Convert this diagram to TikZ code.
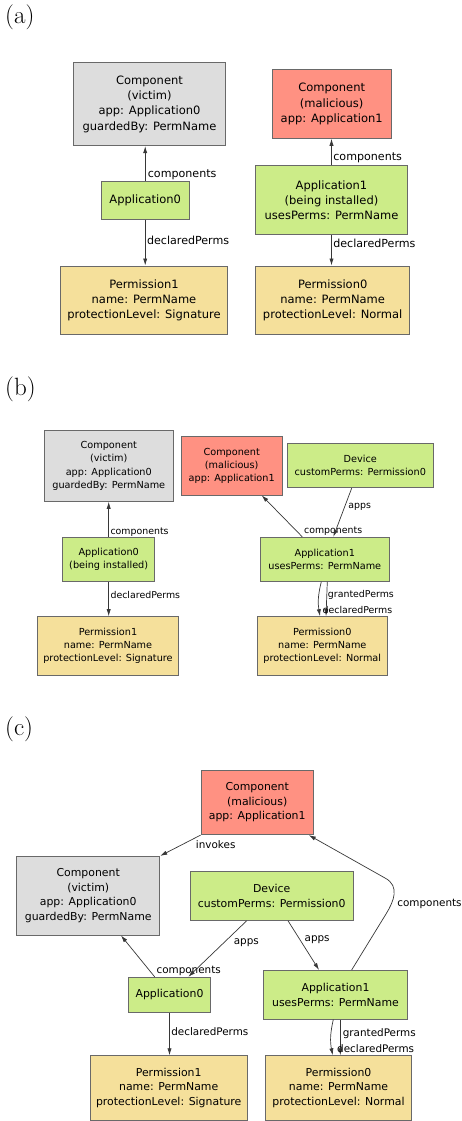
\documentclass[tikz,border=0pt]{standalone}
\usepackage{fontspec}
\newfontfamily\djv{DejaVu Sans}
\usetikzlibrary{arrows.meta}
\definecolor{vicgray}{RGB}{221,221,221}
\definecolor{malred}{RGB}{255,145,130}
\definecolor{appgreen}{RGB}{204,236,136}
\definecolor{permyel}{RGB}{245,224,155}
\definecolor{bordergray}{RGB}{105,105,105}
\definecolor{edgegray}{RGB}{55,55,55}
\begin{document}
\begin{tikzpicture}[x=1pt,y=-1pt,
  box/.style={draw=bordergray, line width=0.9pt, align=center, inner sep=0pt},
  vicbox/.style={box, fill=vicgray},
  malbox/.style={box, fill=malred},
  appbox/.style={box, fill=appgreen},
  permbox/.style={box, fill=permyel},
  sz/.style 2 args={minimum width=#1, minimum height=#2},
  con/.style={draw=edgegray, line width=0.7pt, -{Latex[length=7pt,width=4.2pt]}},
  lbl/.style={inner sep=1.5pt, text=black},
  fa/.style={font=\djv\fontsize{11.5}{15.3}\selectfont},
  la/.style={lbl, font=\djv\fontsize{11.1}{13}\selectfont},
  fb/.style={font=\djv\fontsize{9.7}{13.3}\selectfont},
  lb/.style={lbl, font=\djv\fontsize{9.4}{11}\selectfont},
  fc/.style={font=\djv\fontsize{10.9}{14.7}\selectfont},
  lc/.style={lbl, font=\djv\fontsize{10.4}{12}\selectfont},
  panel/.style={font=\fontsize{25}{30}\selectfont, inner sep=0pt, anchor=base west}
]
\useasboundingbox (0,0) rectangle (462,1121);

% ---------------- (a) ----------------
\node[panel] (pa) at (5,23.5) {(a)};
\node[vicbox, fa, sz={152.4pt}{83.4pt}] (avic) at (149.5,104) {Component\\(victim)\\app: Application0\\guardedBy: PermName};
\node[malbox, fa, sz={118.7pt}{68.6pt}] (amal) at (331.7,104) {Component\\(malicious)\\app: Application1};
\node[appbox, fa, sz={87.7pt}{37.7pt}] (aapp0) at (145.2,200.2) {Application0};
\node[appbox, fa, sz={151.6pt}{69pt}] (aapp1) at (331.5,200.2) {Application1\\(being installed)\\usesPerms: PermName};
\node[permbox, fa, sz={167.4pt}{68.7pt}] (aperm1) at (144,300.3) {Permission1\\name: PermName\\protectionLevel: Signature};
\node[permbox, fa, sz={154pt}{68.7pt}] (aperm0) at (332.7,300.3) {Permission0\\name: PermName\\protectionLevel: Normal};

\draw[con] (aapp0.north) -- (aapp0.north |- avic.south) node[la, pos=0.185, anchor=west, xshift=0.8pt] {components};
\draw[con] (aapp0.south) -- (aapp0.south |- aperm1.north) node[la, pos=0.447, anchor=west] {declaredPerms};
\draw[con] (aapp1.north) -- (aapp1.north |- amal.south) node[la, pos=0.29, anchor=west] {components};
\draw[con] (aapp1.south) -- (aapp1.south |- aperm0.north) node[la, pos=0.256, anchor=west] {declaredPerms};

% ---------------- (b) ----------------
\node[panel] (pb) at (5,395.5) {(b)};
\node[vicbox, fb, sz={129pt}{71pt}] (bvic) at (108.8,465.8) {Component\\(victim)\\app: Application0\\guardedBy: PermName};
\node[malbox, fb, sz={100.7pt}{58.3pt}] (bmal) at (231.7,465.8) {Component\\(malicious)\\app: Application1};
\node[appbox, fb, sz={146.7pt}{44pt}] (bdev) at (360.3,465.7) {Device\\customPerms: Permission0};
\node[appbox, fb, sz={92pt}{44pt}] (bapp0) at (108.7,559.3) {Application0\\(being installed)};
\node[appbox, fb, sz={129pt}{44pt}] (bapp1) at (324.8,559.3) {Application1\\usesPerms: PermName};
\node[permbox, fb, sz={141.4pt}{58.3pt}] (bperm1) at (108,645.8) {Permission1\\name: PermName\\protectionLevel: Signature};
\node[permbox, fb, sz={130.7pt}{58.3pt}] (bperm0) at (322.3,645.8) {Permission0\\name: PermName\\protectionLevel: Normal};

\draw[con] (bapp0.north) -- (bapp0.north |- bvic.south) node[lb, pos=0.14, anchor=west] {components};
\draw[con] (bapp0.south) -- (bapp0.south |- bperm1.north) node[lb, pos=0.37, anchor=west] {declaredPerms};
\draw[con] ([xshift=-22.5pt]bapp1.north) -- ([xshift=30pt]bmal.south) node[lb, pos=0, anchor=base west, yshift=3pt] {components};
\draw[con] ([xshift=-8.6pt]bdev.south) -- ([xshift=8.5pt]bapp1.north) node[lb, pos=0.39, anchor=west, xshift=2pt] {apps};
\draw[con] ([xshift=-3.5pt]bapp1.south) to[bend right=12] node[lb, pos=0.38, anchor=west, xshift=7.3pt] {grantedPerms} ([xshift=-2.3pt]bperm0.north);
\draw[con] ([xshift=2.5pt]bapp1.south) -- ([xshift=3.7pt]bperm0.north) node[lb, pos=0.81, anchor=west, xshift=-5.5pt] {declaredPerms};

% ---------------- (c) ----------------
\node[panel] (pc) at (5,735) {(c)};
\node[malbox, fc, sz={112.3pt}{64.7pt}] (cmal) at (257.2,802.3) {Component\\(malicious)\\app: Application1};
\node[vicbox, fc, sz={143pt}{78.7pt}] (cvic) at (88.2,895.7) {Component\\(victim)\\app: Application0\\guardedBy: PermName};
\node[appbox, fc, sz={163.3pt}{48.6pt}] (cdev) at (271.7,896) {Device\\customPerms: Permission0};
\node[appbox, fc, sz={82.4pt}{35pt}] (capp0) at (169.5,994.8) {Application0};
\node[appbox, fc, sz={143.6pt}{48.7pt}] (capp1) at (335.5,994.7) {Application1\\usesPerms: PermName};
\node[permbox, fc, sz={157.3pt}{64.3pt}] (cperm1) at (168.7,1087.9) {Permission1\\name: PermName\\protectionLevel: Signature};
\node[permbox, fc, sz={145.6pt}{64.3pt}] (cperm0) at (338.5,1087.9) {Permission0\\name: PermName\\protectionLevel: Normal};

\draw[con] (cmal.south west) -- (cvic.north east) node[lc, pos=0, anchor=west, xshift=-6.5pt, yshift=-9.3pt] {invokes};
\draw[con] ([xshift=-14.8pt]capp0.north) -- ([xshift=32.8pt]cvic.south) node[lc, pos=0, anchor=base west, yshift=3pt] {components};
\draw[con] ([xshift=-25pt]cdev.south) -- ([xshift=18.8pt]capp0.north) node[lc, pos=0.39, anchor=west, xshift=8pt] {apps};
\draw[con] ([xshift=16.3pt]cdev.south) -- ([xshift=-16.5pt]capp1.north) node[lc, pos=0.38, anchor=west, xshift=3pt] {apps};
\draw[con] ([xshift=16.2pt]capp1.north) -- (386,914) node[lc, anchor=west, xshift=9.5pt, yshift=10.5pt] {components}
   .. controls (394,901) and (400,886) .. (385,878) -- ([xshift=-5pt]cmal.south east);
\draw[con] ([xshift=-2.2pt]capp1.south) to[bend right=12] node[lc, pos=0.39, anchor=west, xshift=10pt] {grantedPerms} ([xshift=-5.8pt]cperm0.north);
\draw[con] ([xshift=4.8pt]capp1.south) -- ([xshift=1.8pt]cperm0.north) node[lc, pos=0.82, anchor=west, xshift=-5pt] {declaredPerms};
\draw[con] (capp0.south) -- (capp0.south |- cperm1.north) node[lc, pos=0.44, anchor=west] {declaredPerms};
\end{tikzpicture}
\end{document}
